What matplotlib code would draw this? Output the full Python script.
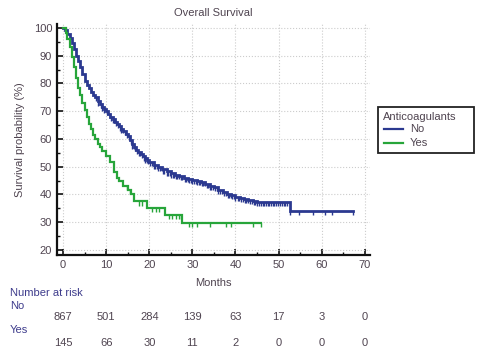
import numpy as np
import matplotlib
matplotlib.use("Agg")
import matplotlib.pyplot as plt
from matplotlib.transforms import blended_transform_factory
from matplotlib.patches import Rectangle
from matplotlib.lines import Line2D

plt.rcParams['font.family'] = ['Liberation Sans', 'DejaVu Sans']

# ---------------- data ----------------
t_no = [0, 0.5, 1, 1.5, 2, 2.5, 3, 3.5, 4, 4.5, 5, 5.5, 6, 6.5, 7, 7.5, 8, 8.5, 9, 9.5,
        10, 10.5, 11, 11.5, 12, 12.5, 13, 13.5, 14, 14.5, 15, 15.5, 16, 16.5, 17, 17.5, 18, 18.5, 19, 19.5,
        20, 21, 22, 23, 24, 25, 26, 27, 28, 29,
        30, 31, 32, 33, 34, 35, 36, 37, 38, 39, 40, 41, 42, 43, 44, 45, 52.6]
s_no = [100, 99.3, 97.8, 96.2, 94.5, 92.3, 90, 88, 86, 83.5, 81, 79.5, 78.2, 77, 76, 75, 73.5, 72.5, 71.5, 70.7,
        70, 69, 68, 67.1, 66.2, 65.3, 64.5, 63.6, 62.8, 61.9, 61, 59.5, 58, 57, 56, 55.2, 54.5, 53.7, 53, 52.3,
        51.6, 50.6, 49.8, 49, 48.3, 47.6, 47.1, 46.6, 46.1, 45.6,
        45.2, 44.8, 44.4, 43.8, 43.2, 42.6, 41.7, 40.8, 40.1, 39.7, 39.2, 38.8, 38.4, 38.1, 37.8, 37.4, 34.0]
end_no = 67.3

t_yes = [0, 0.7, 1, 1.5, 2, 2.5, 3, 3.5, 4, 4.5, 5, 5.5, 6, 6.5, 7, 7.5, 8, 8.5, 9, 10,
         11, 11.8, 12.5, 13, 14, 15, 15.7, 16.5, 19.5, 23.6, 27.6]
s_yes = [100, 98, 96, 93, 89.5, 86, 82, 78.5, 76, 73, 70.5, 68, 65.5, 63.5, 61.5, 60, 58.3, 57, 55.8, 53.8,
         51.8, 48, 46, 44.8, 43, 41.5, 40.3, 37.5, 35.3, 32.7, 29.9]
end_yes = 45.9

cens_no = [7.6, 8.2, 8.7, 9.1, 9.6, 10.3, 10.8, 11.2, 11.6, 11.9, 12.3, 12.7, 13.1, 13.5, 13.9, 14.3, 14.8,
           15.2, 15.7, 16.1, 16.4, 16.8, 17.2, 17.6, 17.9, 18.3, 18.7, 19.1, 19.4, 19.8, 20.2,
           20.6, 21.0, 21.4, 21.7, 22.1, 22.5, 22.9, 23.2, 23.5, 24.0, 24.4, 24.7, 25.1, 25.5, 25.8,
           26.1, 26.5, 26.9, 27.3, 27.7, 28.2, 28.5, 28.9, 29.3, 29.6, 30.0, 30.4, 30.8, 31.1,
           31.5, 31.8, 32.2, 32.5, 32.9, 33.3, 33.7, 34.1, 34.4, 34.8, 35.2, 35.6, 36.0, 36.4, 36.8,
           37.3, 37.7, 38.2, 38.5, 38.9, 39.3, 39.6, 40.0, 40.5, 40.9, 41.3, 41.7, 42.1, 42.5, 42.9,
           43.3, 43.8, 44.2, 44.6, 45.0, 45.5, 45.9, 46.3, 46.7, 47.1, 47.5, 47.8, 48.2, 48.6, 49.0,
           49.4, 49.9, 50.3, 50.8, 51.2, 51.6, 52.0,
           52.7, 54.8, 57.9, 60.7, 62.5, 67.3]
cens_yes = [14.9, 15.6, 17.6, 18.4, 20.7, 21.5, 22.2, 24.5, 25.3, 26.1, 26.9, 27.3,
            29.2, 29.9, 31.1, 34.0, 37.7, 39.0, 44.0, 45.9]

risk_times = [0, 10, 20, 30, 40, 50, 60, 70]
risk_no = [867, 501, 284, 139, 63, 17, 3, 0]
risk_yes = [145, 66, 30, 11, 2, 0, 0, 0]

groups = ["No", "Yes"]
title = "Overall Survival"
legend_title = "Anticoagulants"

# ---------------- style ----------------
c_no = "#2b3990"
c_yes = "#27a53a"
txt = "#4f4450"
lab = "#3e3c8c"
fs = 8

W, H = 481, 356
fig = plt.figure(figsize=(W / 100, H / 100), dpi=100)
ax = fig.add_axes([57/W, 1-255/H, (370-57)/W, (255-24)/H])


def step_xy(t, s, end):
    t = np.asarray(t, float)
    s = np.asarray(s, float)
    return np.append(t, end), np.append(s, s[-1])


def surv_at(t, s, q):
    idx = np.searchsorted(np.asarray(t, float), np.asarray(q, float), side="right") - 1
    return np.asarray(s, float)[idx]


for t, s, end, cens, col, lw in [(t_no, s_no, end_no, cens_no, c_no, 2.0),
                                  (t_yes, s_yes, end_yes, cens_yes, c_yes, 1.6)]:
    x, y = step_xy(t, s, end)
    ax.step(x, y, where="post", color=col, lw=lw, zorder=3, solid_joinstyle="miter")
    sv = surv_at(t, s, cens)
    ax.vlines(cens, sv - 1.5, sv, color=col, lw=1.0, zorder=3)

ax.set_xlim(-1.4, 71.2)
ax.set_ylim(18.2, 101.4)
ax.set_xticks(range(0, 71, 10))
ax.set_xticks(range(0, 71, 5), minor=True)
ax.set_yticks(range(20, 101, 10))
ax.set_yticks(range(20, 101, 5), minor=True)
ax.grid(True, which="major", color="#cccccc", ls=":", lw=0.8)
for sp in ["top", "right"]:
    ax.spines[sp].set_visible(False)
for sp in ["left", "bottom"]:
    ax.spines[sp].set_linewidth(1.6)
    ax.spines[sp].set_color("#111111")
ax.tick_params(which="both", direction="in", colors="#111111", labelcolor=txt, labelsize=fs)
ax.tick_params(which="major", length=4, width=1.2)
ax.tick_params(which="minor", length=2.5, width=1)
ax.set_title(title, fontsize=fs, color=txt, pad=6)
ax.set_xlabel("Months", fontsize=fs, color=txt, labelpad=6)
ax.set_ylabel("Survival probability (%)", fontsize=fs, color=txt, labelpad=6)

# legend box (drawn in figure pixels)
fig.add_artist(Rectangle((378/W, 1-153/H), 96/W, 46/H, transform=fig.transFigure,
                         facecolor="white", edgecolor="#222222", lw=1.3))
fig.text(383/W, 1-117/H, legend_title, fontsize=fs, color=txt, va="center", ha="left")
for i, (g, col) in enumerate(zip(groups, [c_no, c_yes])):
    yy = 1 - (129 + 14 * i) / H
    fig.add_artist(Line2D([384/W, 403/W], [yy, yy], transform=fig.transFigure, color=col, lw=1.6))
    fig.text(410/W, yy, g, fontsize=fs, color=txt, va="center", ha="left")

# number at risk
fig.text(10/W, 1-293/H, "Number at risk", fontsize=fs, color=lab, va="center")
fig.text(10/W, 1-306/H, groups[0], fontsize=fs, color=lab, va="center")
fig.text(10/W, 1-330/H, groups[1], fontsize=fs, color=lab, va="center")
tr = blended_transform_factory(ax.transData, fig.transFigure)
for xv, n1, n2 in zip(risk_times, risk_no, risk_yes):
    ax.text(xv, 1-317/H, str(n1), transform=tr, ha="center", va="center", fontsize=fs, color=txt, clip_on=False)
    ax.text(xv, 1-343/H, str(n2), transform=tr, ha="center", va="center", fontsize=fs, color=txt, clip_on=False)

fig.savefig("out.png", dpi=100)
